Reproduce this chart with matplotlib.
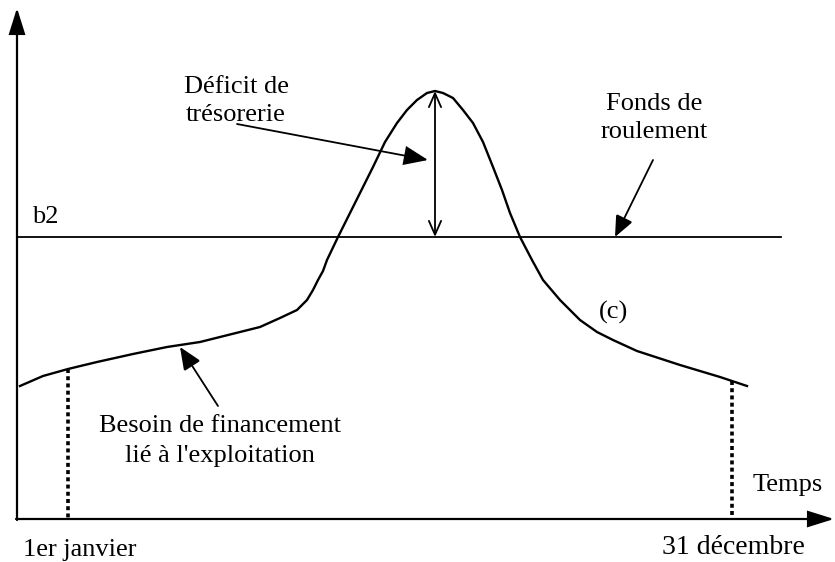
import matplotlib.pyplot as plt
from matplotlib.patches import FancyArrowPatch

# curve (c): besoin de financement over the year
# (x = time position, y = level; picture units, y grows downwards)
curve_x = [20, 43, 68, 97, 133, 167, 200, 240, 260, 280, 297, 307, 313, 318, 323,
           327, 338, 350, 363, 373, 385, 397, 407, 417, 427, 435, 443, 453, 463,
           473, 483, 493, 502, 510, 520, 532, 543, 560, 580, 597, 613, 637, 680,
           720, 747]
curve_y = [386, 376, 369, 362, 354, 347, 342, 332, 327, 318, 310, 300, 290, 280, 271,
           260, 237, 213, 187, 167, 142, 123, 110, 100, 93, 91, 93, 98, 110,
           123, 142, 167, 190, 213, 237, 260, 280, 300, 320, 332, 340, 351, 365,
           377, 386]

b2_level = 237
peak = (435, 91)
start_day = (68, 369)   # 1er janvier
end_day = (732, 381)    # 31 décembre

labels = {
    "deficit": "Déficit de\ntrésorerie",
    "fonds": "Fonds de\nroulement",
    "besoin": "Besoin de financement\nlié à l'exploitation",
    "b2": "b2",
    "c": "(c)",
    "temps": "Temps",
    "debut": "1er janvier",
    "fin": "31 décembre",
}

plt.rcParams['font.family'] = ['Liberation Serif', 'DejaVu Serif']

fig = plt.figure(figsize=(8.35, 5.62), dpi=100)
ax = fig.add_axes([0, 0, 1, 1])
ax.set_xlim(0, 835)
ax.set_ylim(562, 0)
ax.axis('off')

x0, y0 = 17, 519


def arrow(p1, p2, style, lw=1.5, scale=20):
    a = FancyArrowPatch(p1, p2, arrowstyle=style, mutation_scale=scale,
                        color='black', lw=lw, shrinkA=0, shrinkB=0,
                        joinstyle='miter')
    ax.add_patch(a)


# axes
arrow((x0, y0 + 1), (x0, 8), '-|>,head_length=0.8,head_width=0.25', lw=1.6)
arrow((x0 - 1, y0), (834, y0), '-|>,head_length=0.8,head_width=0.25', lw=1.6)

# fonds de roulement line
ax.plot([x0, 781], [b2_level, b2_level], color='black', lw=1.3)

# curve
ax.plot(curve_x, curve_y, color='black', lw=1.7, solid_joinstyle='round')

# dotted lines at start / end of year
for px, py in (start_day, end_day):
    ax.plot([px, px], [py, y0], color='black', lw=2.6,
            dashes=(1.1, 0.9), dash_capstyle='butt')

# double arrow: déficit de trésorerie
arrow((peak[0], b2_level), peak, '<->,head_length=0.5,head_width=0.22', lw=1.3)

# pointer arrows
arrow((237, 124), (428, 160), '-|>,head_length=0.75,head_width=0.3', lw=1.3)
arrow((653, 160), (615, 237), '-|>,head_length=0.65,head_width=0.28', lw=1.3)
arrow((218, 406), (180, 347), '-|>,head_length=0.7,head_width=0.3', lw=1.3)

fs = 19
ax.text(236, 101, labels["deficit"], fontsize=fs, ha='center', va='center',
        linespacing=1.3)
ax.text(654, 118, labels["fonds"], fontsize=fs, ha='center', va='center',
        linespacing=1.4)
ax.text(220, 441, labels["besoin"], fontsize=fs, ha='center', va='center',
        linespacing=1.45)
ax.text(32, 217, labels["b2"], fontsize=fs, ha='left', va='center')
ax.text(614, 312, labels["c"], fontsize=fs, ha='center', va='center')
ax.text(788, 485, labels["temps"], fontsize=fs, ha='center', va='center')
ax.text(23, 550, labels["debut"], fontsize=fs, ha='left', va='center')
ax.text(805, 548, labels["fin"], fontsize=20, ha='right', va='center')

fig.savefig('out.png', dpi=100)
